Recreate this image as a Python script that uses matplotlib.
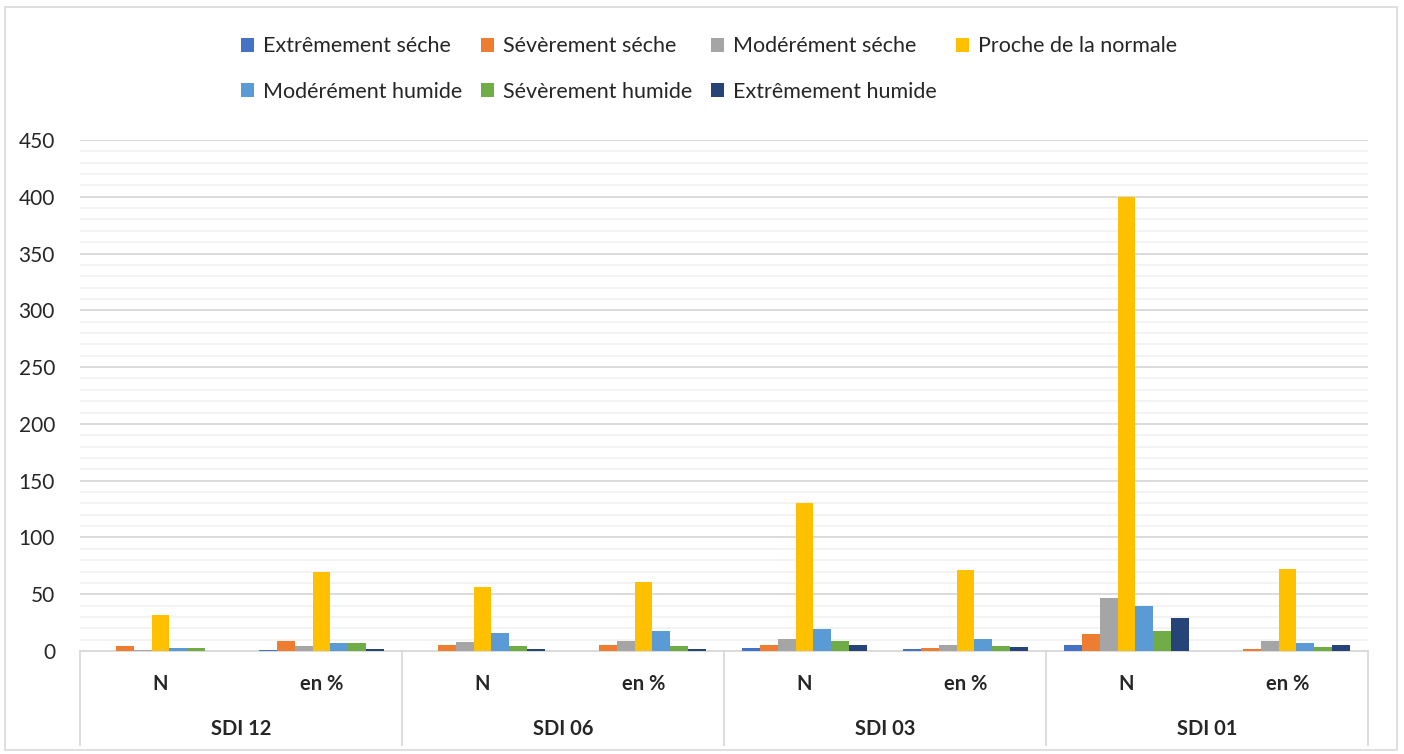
import numpy as np
import matplotlib.pyplot as plt
from matplotlib.patches import Rectangle
from matplotlib.lines import Line2D

plt.rcParams['font.family'] = ['Lato', 'DejaVu Sans']

# data
indices = ["SDI 12", "SDI 06", "SDI 03", "SDI 01"]
sublabels = ["N", "en %"]
series = ["Extrêmement séche", "Sévèrement séche", "Modérément séche",
          "Proche de la normale", "Modérément humide", "Sévèrement humide",
          "Extrêmement humide"]
colors = ["#4472C4", "#ED7D31", "#A5A5A5", "#FFC000", "#5B9BD5", "#70AD47", "#264478"]

# one list per series, 8 groups: (SDI12 N, SDI12 %, SDI06 N, SDI06 %, SDI03 N, SDI03 %, SDI01 N, SDI01 %)
ext_seche = [0, 1, 0, 0, 3, 2, 5.5, 0]
sev_seche = [4, 8.5, 5.5, 5.5, 5.5, 3, 15, 2]
mod_seche = [1, 4.4, 8, 9, 11, 5.5, 47, 9]
proche = [32, 70, 56, 61, 130, 71, 400, 72]
mod_humide = [3, 6.8, 16, 18, 19, 10.3, 39.6, 6.8]
sev_humide = [3, 6.8, 4.4, 4.4, 8.8, 4.7, 18, 3.5]
ext_humide = [0, 2, 2, 2, 5.5, 3.5, 29, 5.5]
values = [ext_seche, sev_seche, mod_seche, proche, mod_humide, sev_humide, ext_humide]

W, H = 1404, 754
fig = plt.figure(figsize=(W / 100, H / 100), dpi=100)
fig.patches.append(Rectangle((5 / W, 1 - 750 / H), 1392 / W, 743 / H,
                             transform=fig.transFigure, fill=False,
                             edgecolor="#D9D9D9", lw=1.2))

left, right, top, bottom = 80, 1368, 140, 651
ax = fig.add_axes([left / W, 1 - bottom / H, (right - left) / W, (bottom - top) / H])

x = np.arange(8)
bw = 0.111
handles = []
for i, (name, vals, c) in enumerate(zip(series, values, colors)):
    h = ax.bar(x + (i - 3) * bw, vals, bw, color=c, label=name, zorder=3)
    handles.append(h)

ax.set_xlim(-0.5, 7.5)
ax.set_ylim(0, 450)
ax.set_yticks(np.arange(0, 451, 50))
ax.set_yticks(np.arange(0, 451, 10), minor=True)
ax.grid(axis="y", which="major", color="#D9D9D9", lw=1.3, zorder=0)
ax.grid(axis="y", which="minor", color="#F2F2F2", lw=1.3, zorder=0)
ax.tick_params(axis="y", which="both", length=0, labelsize=15, pad=18, colors="#262626")
ax.set_xticks([])
for s in ["top", "left", "right"]:
    ax.spines[s].set_visible(False)
ax.spines["bottom"].set_color("#D9D9D9")
ax.spines["bottom"].set_linewidth(1.3)

# two-level category axis
ybot = -(745 - bottom) / (bottom - top)
for xs in [-0.5, 1.5, 3.5, 5.5, 7.5]:
    ax.add_line(Line2D([xs, xs], [0, ybot], transform=ax.get_xaxis_transform(),
                       color="#D9D9D9", lw=1.3, clip_on=False))
trans = ax.get_xaxis_transform()
for g in range(8):
    ax.text(x[g], -(684 - bottom) / (bottom - top), sublabels[g % 2], transform=trans,
            ha="center", va="center", fontsize=14.5, fontweight="bold", color="#262626")
for k, name in enumerate(indices):
    ax.text(2 * k + 0.5, -(729 - bottom) / (bottom - top), name, transform=trans,
            ha="center", va="center", fontsize=14.5, fontweight="bold", color="#262626")

# legend: 4 on first row, 3 on second (column-major order)
order = [0, 4, 1, 5, 2, 6, 3]
leg = fig.legend([handles[i] for i in order], [series[i] for i in order],
                 ncol=4, loc="center", bbox_to_anchor=(709 / W, 1 - 69 / H),
                 frameon=False, fontsize=15.5, handlelength=0.6, handleheight=0.6,
                 handletextpad=0.4, columnspacing=0.9, labelspacing=1.17)
for t in leg.get_texts():
    t.set_color("#262626")

fig.savefig("out.png", dpi=100)
